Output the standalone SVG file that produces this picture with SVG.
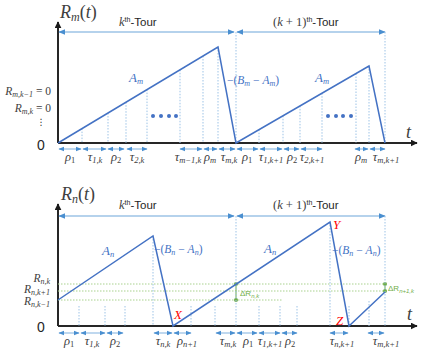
<svg xmlns="http://www.w3.org/2000/svg" width="423" height="352" viewBox="0 0 423 352">
<defs>
<marker id="axA" viewBox="0 0 10 10" refX="9" refY="5" markerWidth="7" markerHeight="7" orient="auto-start-reverse" markerUnits="userSpaceOnUse"><path d="M0,0 L10,5 L0,10 z" fill="#1a1a1a"/></marker>
<marker id="tA" viewBox="0 0 10 10" refX="9" refY="5" markerWidth="7" markerHeight="7" orient="auto-start-reverse" markerUnits="userSpaceOnUse"><path d="M0,1 L10,5 L0,9 z" fill="#4A8FD0"/></marker>
<marker id="kA" viewBox="0 0 10 10" refX="9" refY="5" markerWidth="6" markerHeight="6" orient="auto-start-reverse" markerUnits="userSpaceOnUse"><path d="M0,1 L10,5 L0,9 z" fill="#4A8FD0"/></marker>
<marker id="gD" viewBox="0 0 10 10" refX="5" refY="5" markerWidth="4" markerHeight="4" markerUnits="userSpaceOnUse"><circle cx="5" cy="5" r="5" fill="#70AD47"/></marker>
</defs>
<style>
.axis{stroke:#262626;stroke-width:2;fill:none}
.saw{stroke:#4472C4;stroke-width:1.5;fill:none}
.tour{stroke:#9DC3E6;stroke-width:1.5;fill:none;marker-start:url(#tA);marker-end:url(#tA)}
.tick line{stroke:#9DC3E6;stroke-width:1.3;fill:none;marker-start:url(#kA);marker-end:url(#kA)}
.vd{stroke:#9DC3E6;stroke-width:1;stroke-dasharray:1.5 1.5;fill:none}
.gd{stroke:#A9D18E;stroke-width:1;stroke-dasharray:1.5 1.5;fill:none}
.dr{stroke:#70AD47;stroke-width:1;fill:none;marker-start:url(#gD);marker-end:url(#gD)}
.m{font-family:"Liberation Serif","DejaVu Serif",serif;font-style:italic;fill:#404040}
.mb{font-family:"Liberation Serif","DejaVu Serif",serif;font-style:italic;fill:#4472C4}
.r{font-family:"Liberation Serif","DejaVu Serif",serif;font-style:italic;fill:#FF0000;font-size:13px}
.g{font-family:"Liberation Sans","DejaVu Sans",sans-serif;fill:#70AD47;font-size:8px}
.s{font-family:"Liberation Sans","DejaVu Sans",sans-serif;fill:#262626}
.tk{font-size:12.5px;text-anchor:middle}
.up{font-style:normal}
</style>

<!-- ================= TOP PANEL ================= -->
<g id="top-axes">
<path class="axis" d="M58,143 V22" marker-end="url(#axA)"/>
<path class="axis" d="M58,143 H417" marker-end="url(#axA)"/>
<text class="m" x="60" y="18" font-size="18" fill="#1a1a1a">R<tspan font-size="12" dy="3">m</tspan><tspan class="up" dy="-3">(</tspan>t<tspan class="up">)</tspan></text>
<text class="m" x="406" y="138" font-size="18" fill="#1a1a1a">t</text>
<text class="s" x="37" y="150" font-size="14">0</text>
<text class="m" x="51" y="95" font-size="11.5" text-anchor="end">R<tspan font-size="8" dy="2">m,k−1</tspan><tspan class="up" dy="-2"> = 0</tspan></text>
<text class="m" x="51" y="112" font-size="11.5" text-anchor="end">R<tspan font-size="8" dy="2">m,k</tspan><tspan class="up" dy="-2"> = 0</tspan></text>
<text class="s" x="41" y="125" font-size="9" text-anchor="middle" fill="#404040">⋮</text>
</g>

<g id="top-tours">
<path class="tour" d="M59,32 H234"/>
<path class="tour" d="M237,32 H385"/>
<text class="s" x="119" y="26" font-size="11.5"><tspan class="m" font-size="12.5" fill="#262626">k</tspan><tspan font-size="7" dy="-4">th</tspan><tspan dy="4">-Tour</tspan></text>
<text class="s" x="273" y="26" font-size="11.5"><tspan class="m up" font-size="12.5" fill="#262626">(</tspan><tspan class="m" font-size="12.5" fill="#262626">k</tspan><tspan class="m up" font-size="12.5" fill="#262626"> + 1)</tspan><tspan font-size="7" dy="-4">th</tspan><tspan dy="4">-Tour</tspan></text>
</g>

<g id="top-guides">
<path class="vd" d="M82,128.6V143 M108,113V143 M126,102.2V143 M147,89.6V143 M180,69.8V143 M203,56V143 M218,47V143 M236,32V143 M259,129.7V143 M283,115.8V143 M300,105.9V143 M322,93.2V143 M356,73.5V143 M369,66V143 M385,32V143"/>
</g>

<g id="top-curve">
<path class="saw" d="M58,143 L218,47 L236,143 L369,66 L385,143"/>
<g fill="#4472C4"><circle cx="153" cy="116" r="2"/><circle cx="161" cy="116" r="2"/><circle cx="169" cy="116" r="2"/><circle cx="176" cy="116" r="2"/><circle cx="328" cy="116" r="2"/><circle cx="336" cy="116" r="2"/><circle cx="343" cy="116" r="2"/><circle cx="351" cy="116" r="2"/></g>
<text class="mb" x="129" y="82" font-size="13">A<tspan font-size="8.5" dy="2">m</tspan></text>
<text class="mb" x="315" y="82" font-size="13">A<tspan font-size="8.5" dy="2">m</tspan></text>
<text class="mb" x="227" y="84" font-size="11.5"><tspan class="up">−(</tspan>B<tspan font-size="8" dy="2">m</tspan><tspan class="up" dy="-2"> − </tspan>A<tspan font-size="8" dy="2">m</tspan><tspan class="up" dy="-2">)</tspan></text>
</g>

<g id="top-ticks" class="tick">
<line x1="59" y1="149" x2="81" y2="149"/>
<line x1="83" y1="149" x2="106" y2="149"/>
<line x1="108" y1="149" x2="124" y2="149"/>
<line x1="127" y1="149" x2="147" y2="149"/>
<line x1="180" y1="149" x2="202" y2="149"/>
<line x1="204" y1="149" x2="217" y2="149"/>
<line x1="219" y1="149" x2="235" y2="149"/>
<line x1="237" y1="149" x2="258" y2="149"/>
<line x1="260" y1="149" x2="282" y2="149"/>
<line x1="284" y1="149" x2="299" y2="149"/>
<line x1="301" y1="149" x2="322" y2="149"/>
<line x1="355" y1="149" x2="368" y2="149"/>
<line x1="370" y1="149" x2="385" y2="149"/>
<text class="m tk" x="70" y="161">ρ<tspan font-size="8.5" dy="2" class="up">1</tspan></text>
<text class="m tk" x="95" y="161">τ<tspan font-size="8.5" dy="2">1,k</tspan></text>
<text class="m tk" x="116" y="161">ρ<tspan font-size="8.5" dy="2" class="up">2</tspan></text>
<text class="m tk" x="137" y="161">τ<tspan font-size="8.5" dy="2">2,k</tspan></text>
<text class="m tk" x="188" y="161">τ<tspan font-size="8.5" dy="2">m−1,k</tspan></text>
<text class="m tk" x="210" y="161">ρ<tspan font-size="8.5" dy="2">m</tspan></text>
<text class="m tk" x="229" y="161">τ<tspan font-size="8.5" dy="2">m,k</tspan></text>
<text class="m tk" x="247" y="161">ρ<tspan font-size="8.5" dy="2" class="up">1</tspan></text>
<text class="m tk" x="271" y="161">τ<tspan font-size="8.5" dy="2">1,k+1</tspan></text>
<text class="m tk" x="292" y="161">ρ<tspan font-size="8.5" dy="2" class="up">2</tspan></text>
<text class="m tk" x="312" y="161">τ<tspan font-size="8.5" dy="2">2,k+1</tspan></text>
<text class="m tk" x="361" y="161">ρ<tspan font-size="8.5" dy="2">m</tspan></text>
<text class="m tk" x="386" y="161">τ<tspan font-size="8.5" dy="2">m,k+1</tspan></text>
</g>

<!-- ================= BOTTOM PANEL ================= -->
<g id="bottom-axes">
<path class="axis" d="M58,326 V204" marker-end="url(#axA)"/>
<path class="axis" d="M58,326 H417" marker-end="url(#axA)"/>
<text class="m" x="61" y="200" font-size="18" fill="#1a1a1a">R<tspan font-size="12" dy="3">n</tspan><tspan class="up" dy="-3">(</tspan>t<tspan class="up">)</tspan></text>
<text class="m" x="407" y="320" font-size="18" fill="#1a1a1a">t</text>
<text class="s" x="37" y="332" font-size="14">0</text>
<text class="m" x="50" y="282" font-size="11.5" text-anchor="end">R<tspan font-size="8" dy="2">n,k</tspan></text>
<text class="m" x="50" y="293" font-size="11.5" text-anchor="end">R<tspan font-size="8" dy="2">n,k+1</tspan></text>
<text class="m" x="50" y="305" font-size="11.5" text-anchor="end">R<tspan font-size="8" dy="2">n,k−1</tspan></text>
</g>

<g id="bottom-tours">
<path class="tour" d="M59,216 H234"/>
<path class="tour" d="M237,216 H385"/>
<text class="s" x="119" y="209" font-size="11.5"><tspan class="m" font-size="12.5" fill="#262626">k</tspan><tspan font-size="7" dy="-4">th</tspan><tspan dy="4">-Tour</tspan></text>
<text class="s" x="273" y="209" font-size="11.5"><tspan class="m up" font-size="12.5" fill="#262626">(</tspan><tspan class="m" font-size="12.5" fill="#262626">k</tspan><tspan class="m up" font-size="12.5" fill="#262626"> + 1)</tspan><tspan font-size="7" dy="-4">th</tspan><tspan dy="4">-Tour</tspan></text>
</g>

<g id="bottom-levels">
<path class="gd" d="M58,284H385 M58,291H385 M58,300H282"/>
<path class="dr" d="M236,284V300"/>
<path class="dr" d="M385,284V291"/>
<text class="g" x="240" y="296">ΔR<tspan font-size="6" dy="1.5" font-style="italic">n,k</tspan></text>
<text class="g" x="388" y="291">ΔR<tspan font-size="6" dy="1.5" font-style="italic">n+1,k</tspan></text>
</g>

<g id="bottom-guides">
<path class="vd" d="M79,306V326 M105,306V326 M125,306V326 M153,236V326 M191,306V326 M215,306V326 M236,216V326 M259,306V326 M280,306V326 M297,306V326 M330,222V326 M349,306V326 M369,301V326 M385,216V326"/>
</g>

<g id="bottom-curve">
<path class="saw" d="M58,300 L153,236 L173,326 L330,222 L349,326 L385,292"/>
<text class="mb" x="102" y="255" font-size="13">A<tspan font-size="8.5" dy="2">n</tspan></text>
<text class="mb" x="264" y="253" font-size="13">A<tspan font-size="8.5" dy="2">n</tspan></text>
<text class="mb" x="154" y="253" font-size="11.5"><tspan class="up">−(</tspan>B<tspan font-size="8" dy="2">n</tspan><tspan class="up" dy="-2"> − </tspan>A<tspan font-size="8" dy="2">n</tspan><tspan class="up" dy="-2">)</tspan></text>
<text class="mb" x="332" y="254" font-size="11.5"><tspan class="up">−(</tspan>B<tspan font-size="8" dy="2">n</tspan><tspan class="up" dy="-2"> − </tspan>A<tspan font-size="8" dy="2">n</tspan><tspan class="up" dy="-2">)</tspan></text>
<text class="r" x="174" y="319">X</text>
<text class="r" x="333" y="229">Y</text>
<text class="r" x="336" y="325">Z</text>
</g>

<g id="bottom-ticks" class="tick">
<line x1="59" y1="333" x2="79" y2="333"/>
<line x1="81" y1="333" x2="105" y2="333"/>
<line x1="107" y1="333" x2="123" y2="333"/>
<line x1="154" y1="333" x2="172" y2="333"/>
<line x1="174" y1="333" x2="191" y2="333"/>
<line x1="216" y1="333" x2="235" y2="333"/>
<line x1="237" y1="333" x2="257" y2="333"/>
<line x1="259" y1="333" x2="280" y2="333"/>
<line x1="282" y1="333" x2="297" y2="333"/>
<line x1="330" y1="333" x2="348" y2="333"/>
<line x1="368" y1="333" x2="384" y2="333"/>
<text class="m tk" x="69" y="345">ρ<tspan font-size="8.5" dy="2" class="up">1</tspan></text>
<text class="m tk" x="92" y="345">τ<tspan font-size="8.5" dy="2">1,k</tspan></text>
<text class="m tk" x="115" y="345">ρ<tspan font-size="8.5" dy="2" class="up">2</tspan></text>
<text class="m tk" x="163" y="345">τ<tspan font-size="8.5" dy="2">n,k</tspan></text>
<text class="m tk" x="187" y="345">ρ<tspan font-size="8.5" dy="2">n+1</tspan></text>
<text class="m tk" x="228" y="345">τ<tspan font-size="8.5" dy="2">m,k</tspan></text>
<text class="m tk" x="248" y="345">ρ<tspan font-size="8.5" dy="2" class="up">1</tspan></text>
<text class="m tk" x="270" y="345">τ<tspan font-size="8.5" dy="2">1,k+1</tspan></text>
<text class="m tk" x="290" y="345">ρ<tspan font-size="8.5" dy="2" class="up">2</tspan></text>
<text class="m tk" x="342" y="345">τ<tspan font-size="8.5" dy="2">n,k+1</tspan></text>
<text class="m tk" x="386" y="345">τ<tspan font-size="8.5" dy="2">m,k+1</tspan></text>
</g>
</svg>
